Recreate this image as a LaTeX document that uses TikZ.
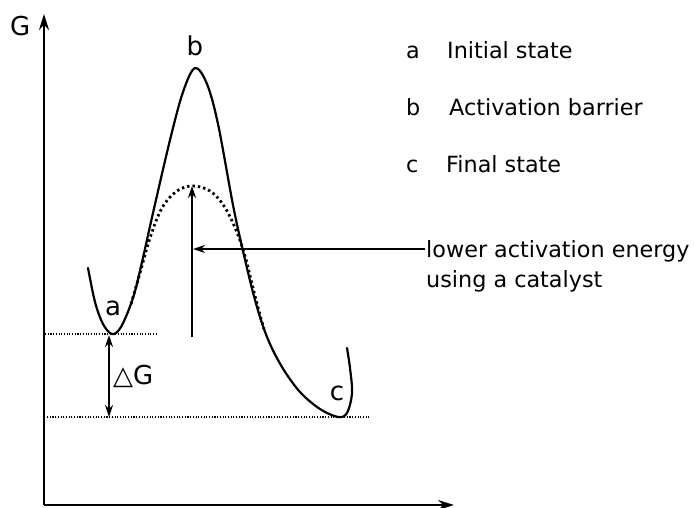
\documentclass[tikz,border=0pt]{standalone}
\usepackage{fontspec}
\setmainfont{DejaVu Sans}
\usetikzlibrary{arrows.meta}
\begin{document}
\begin{tikzpicture}[x=1pt,y=-1pt,
  txt/.style={inner sep=0pt,anchor=base west,font=\fontsize{22.3}{26}\selectfont},
  ltxt/.style={inner sep=0pt,anchor=base west,font=\fontsize{26}{30}\selectfont},
  ctxt/.style={inner sep=0pt,anchor=base,font=\fontsize{26}{30}\selectfont},
  axis/.style={line width=2pt,-{Stealth[length=16pt,width=10pt]}},
  arr/.style={line width=1.6pt,-{Stealth[length=12pt,width=8pt]}},
  thindot/.style={line width=1.1pt,dash pattern=on 1.1pt off 1.6pt},
  curve/.style={line width=2.2pt,line join=round,line cap=round},
  dcurve/.style={line width=2.8pt,dash pattern=on 2.4pt off 3pt}]
\useasboundingbox (0,0) rectangle (694,507);
% axes
\coordinate (O) at (44,505);
\coordinate (Ytop) at (44,14);
\coordinate (Xend) at (454,505);
\draw[axis] (O) -- (Ytop);
\draw[axis] (O) -- (Xend);
\node[ltxt] (G) at (10,35) {G};
% dotted reference lines
\coordinate (l1a) at (45,334); \coordinate (l1b) at (158,334);
\coordinate (l2a) at (47,417); \coordinate (l2b) at (370,417);
\draw[thindot] (l1a) -- (l1b);
\draw[thindot] (l2a) -- (l2b);
% main curve
\draw[curve] plot[smooth,tension=0.55] coordinates {
 (88,268) (95,302) (103,324) (112,334) (121,327) (133,298) (142,262) (153,213) (170,140) (183,92) (195,68)
 (207,84) (218,124) (233,205) (243,251) (255,300) (267,337) (282,367) (300,392) (320,409) (338,417) (347,413) (352,393) (350,368) (347,348)};
% catalysed curve
\draw[dcurve] plot[smooth,tension=0.6] coordinates {
 (131,304) (140,273) (150,238) (162,208) (177,191) (193,186) (210,191) (224,206) (236,230) (245,256) (253,288) (260,315) (264,329)};
% arrows
\coordinate (vb) at (192,337);
\coordinate (vt) at (192,186);
\draw[arr] (vb) -- (vt);
\coordinate (hs) at (425,249);
\coordinate (he) at (193,249);
\draw[arr] (hs) -- (he);
\coordinate (dgt) at (109,335);
\coordinate (dgb) at (109,417);
\draw[line width=1.6pt,{Stealth[length=12pt,width=8pt]}-{Stealth[length=12pt,width=8pt]}] (dgt) -- (dgb);
\node[ltxt] (dG) at (113,384) {△G};
% labels
\node[ctxt] (la) at (113,315) {a};
\node[ctxt] (lb) at (195,55) {b};
\node[ctxt] (lc) at (337,400) {c};
\node[txt] (cat1) at (426,257) {lower activation energy};
\node[txt] (cat2) at (426,287) {using a catalyst};
% legend
\node[txt] (ka) at (406,58) {a};
\node[txt] (kat) at (447,58) {Initial state};
\node[txt] (kb) at (406,115) {b};
\node[txt] (kbt) at (449,115) {Activation barrier};
\node[txt] (kc) at (406,172) {c};
\node[txt] (kct) at (446,172) {Final state};
\end{tikzpicture}
\end{document}
